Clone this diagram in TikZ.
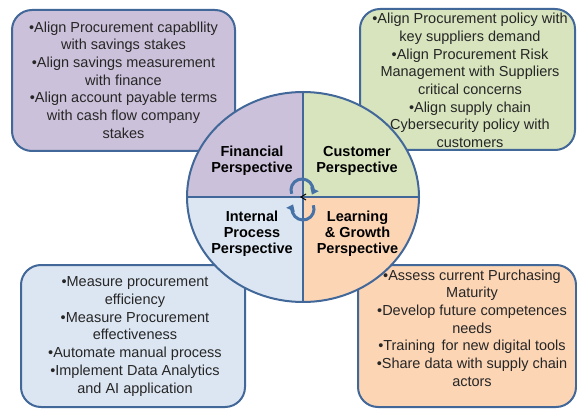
\documentclass[tikz,border=0pt]{standalone}
\usepackage{fontspec}
\setmainfont{Liberation Sans}
\usetikzlibrary{arrows.meta,shapes.geometric}
\definecolor{purp}{HTML}{CCC1DA}
\definecolor{grn}{HTML}{D7E4BD}
\definecolor{lblue}{HTML}{DCE6F2}
\definecolor{peach}{HTML}{FCD5B5}
\definecolor{edge}{HTML}{42689A}
\definecolor{arr}{HTML}{4672A8}
\begin{document}
\begin{tikzpicture}[x=1pt,y=1pt,
  card/.style={draw=edge, line width=2pt, rounded corners=20pt, inner sep=0pt},
  cardtext/.style={align=center, inner sep=0pt, font=\fontsize{14.5}{17.7}\selectfont, text=black!85},
  quadtext/.style={align=center, inner sep=0pt, font=\bfseries\fontsize{14.5}{16}\selectfont},
  cyc/.style={draw=arr, line width=3pt, -{Triangle[width=9pt,length=6pt]}}]
\useasboundingbox (0,0) rectangle (577,410);

% cards
\node[card, fill=purp, minimum width=223, minimum height=141] (fbox) at (123.5,329.5) {};
\node[card, fill=grn, minimum width=215, minimum height=141] (cbox) at (467.5,330.5) {};
\node[card, fill=lblue, minimum width=224, minimum height=142] (ibox) at (133,74) {};
\node[card, fill=peach, minimum width=218, minimum height=142] (lbox) at (467,74) {};

\node[cardtext] (ftext) at (123.5,330) {•Align Procurement capabllity\\with savings stakes\\•Align savings measurement\\with finance\\•Align account payable terms\\with cash flow company\\stakes};
\node[cardtext] (ctext) at (470,329.5) {•Align Procurement policy with\\key suppliers demand\\•Align Procurement Risk\\Management with Suppliers\\critical concerns\\•Align supply chain\\Cybersecurity policy with\\customers};
\node[cardtext] (itext) at (135,73.5) {•Measure procurement\\efficiency\\•Measure Procurement\\effectiveness\\•Automate manual process\\•Implement Data Analytics\\and AI application};
\node[cardtext] (ltext) at (472,82) {•Assess current Purchasing\\Maturity\\•Develop future competences\\needs\\•Training\, for new digital tools\\•Share data with supply chain\\actors};

% circle quadrants
\begin{scope}
\clip (303,213) ellipse [x radius=116, y radius=105];
\fill[purp] (303,213) rectangle (180,330);
\fill[grn] (303,213) rectangle (430,330);
\fill[lblue] (303,213) rectangle (180,100);
\fill[peach] (303,213) rectangle (430,100);
\end{scope}
\node[ellipse, draw=edge, line width=2pt, minimum width=232, minimum height=210, inner sep=0pt] (ring) at (303,213) {};
\draw[edge, line width=2pt] (ring.north) -- (ring.south);
\draw[edge, line width=2pt] (ring.west) -- (ring.east);

\node[quadtext] (fq) at (252,249) {Financial\\Perspective};
\node[quadtext] (cq) at (357,249) {Customer\\Perspective};
\node[quadtext] (iq) at (252,176) {Internal\\Process\\Perspective};
\node[quadtext] (lq) at (357.5,176) {Learning\\\& Growth\\Perspective};

% cycle arrows
\coordinate (hub) at (303,213);
\draw[cyc] ([shift={(200:11)}]302,220) arc[start angle=200, end angle=-25, radius=11];
\draw[cyc] ([shift={(20:11)}]303,201) arc[start angle=20, end angle=-205, radius=11];
\draw[black, line width=1pt] ([shift={(3,3)}]hub) -- ([shift={(-2,0)}]hub) -- ([shift={(3,-3)}]hub);
\end{tikzpicture}
\end{document}
